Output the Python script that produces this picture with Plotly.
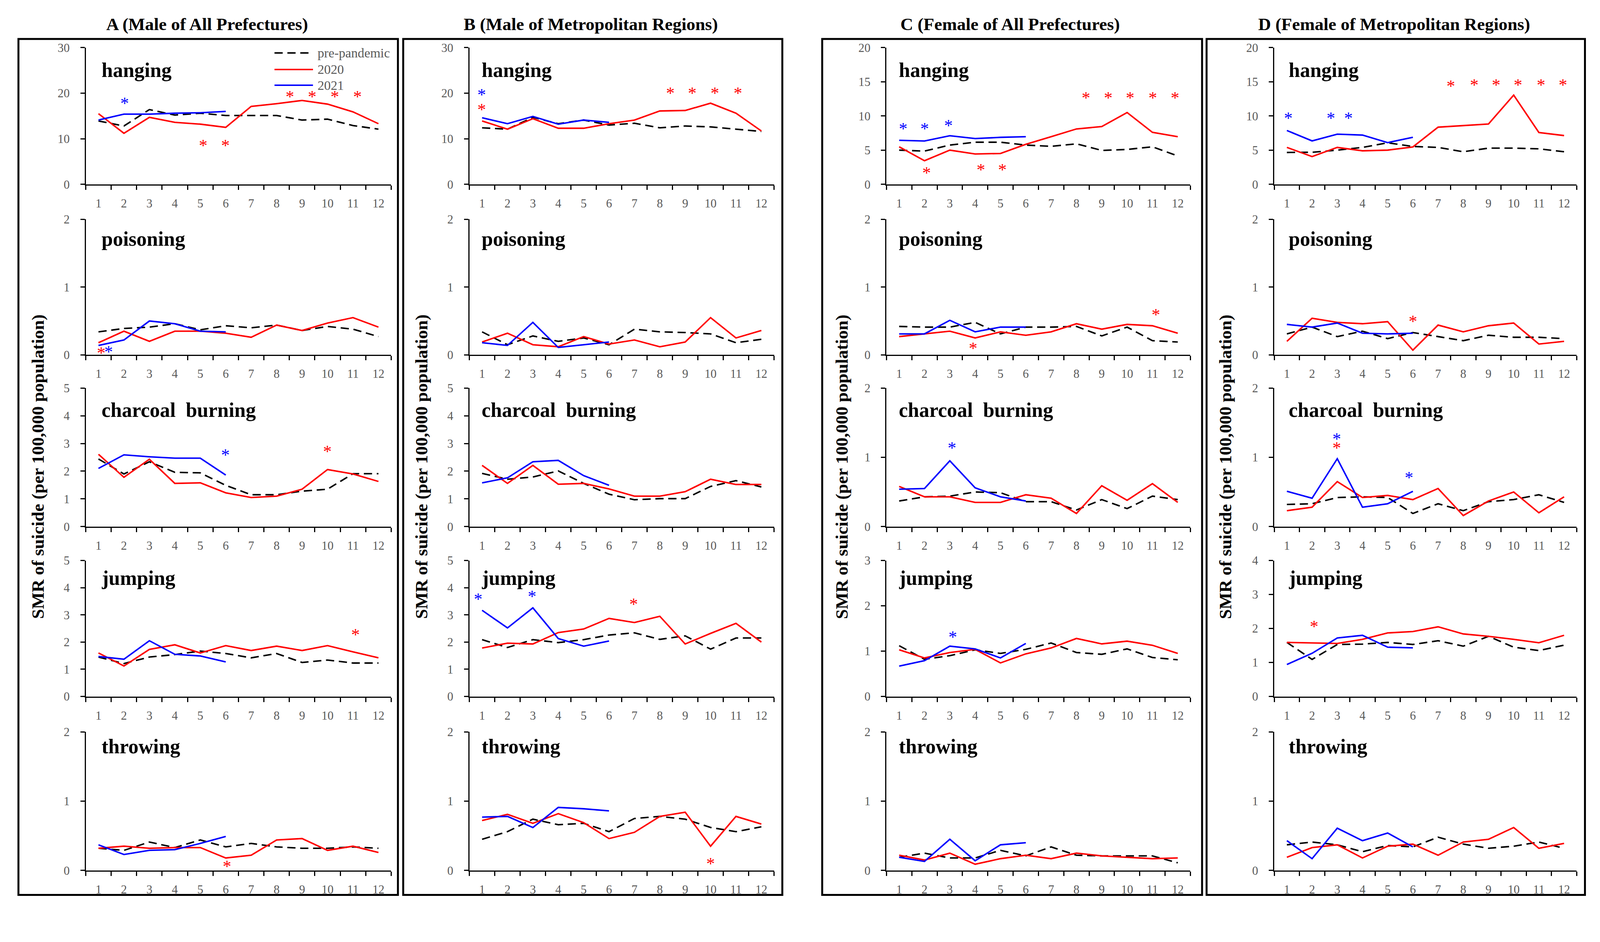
import plotly.graph_objects as go

months = list(range(1, 13))
month_labels = [str(m) for m in months]
months_2021 = months[:6]

methods = ["hanging", "poisoning", "charcoal\u00a0 burning", "jumping", "throwing"]
panel_titles = ["A (Male of All Prefectures)", "B (Male of Metropolitan Regions)",
                "C (Female of All Prefectures)", "D (Female of Metropolitan Regions)"]
series_names = ["pre-pandemic", "2020", "2021"]
y_axis_title = "SMR of suicide (per 100,000 population)"

# ---------------- A: Male, all prefectures ----------------
A_hanging_pre = [13.9, 12.8, 16.4, 15.2, 15.6, 15.1, 15.1, 15.1, 14.1, 14.3, 12.9, 12.1]
A_hanging_2020 = [15.5, 11.2, 14.7, 13.6, 13.2, 12.5, 17.1, 17.7, 18.4, 17.6, 15.9, 13.3]
A_hanging_2021 = [14.1, 15.4, 15.4, 15.6, 15.7, 16.0]
A_poisoning_pre = [0.34, 0.39, 0.41, 0.46, 0.37, 0.43, 0.40, 0.44, 0.36, 0.42, 0.38, 0.27]
A_poisoning_2020 = [0.18, 0.35, 0.20, 0.35, 0.35, 0.32, 0.26, 0.44, 0.36, 0.47, 0.55, 0.41]
A_poisoning_2021 = [0.14, 0.22, 0.50, 0.46, 0.35, 0.34]
A_charcoal_pre = [2.44, 1.90, 2.34, 1.96, 1.94, 1.49, 1.15, 1.15, 1.28, 1.35, 1.91, 1.91]
A_charcoal_2020 = [2.61, 1.78, 2.43, 1.56, 1.58, 1.22, 1.05, 1.10, 1.35, 2.06, 1.90, 1.63]
A_charcoal_2021 = [2.10, 2.59, 2.52, 2.47, 2.47, 1.86]
A_jumping_pre = [1.45, 1.21, 1.45, 1.54, 1.67, 1.58, 1.42, 1.58, 1.25, 1.34, 1.23, 1.23]
A_jumping_2020 = [1.60, 1.12, 1.73, 1.90, 1.60, 1.87, 1.69, 1.85, 1.69, 1.87, 1.64, 1.42]
A_jumping_2021 = [1.47, 1.37, 2.05, 1.55, 1.49, 1.27]
A_throwing_pre = [0.32, 0.29, 0.41, 0.33, 0.44, 0.34, 0.39, 0.34, 0.32, 0.32, 0.34, 0.32]
A_throwing_2020 = [0.32, 0.35, 0.32, 0.33, 0.33, 0.18, 0.22, 0.44, 0.46, 0.29, 0.35, 0.26]
A_throwing_2021 = [0.37, 0.23, 0.29, 0.30, 0.39, 0.49]

# ---------------- B: Male, metropolitan regions ----------------
B_hanging_pre = [12.4, 12.1, 14.7, 13.3, 14.1, 13.0, 13.4, 12.4, 12.8, 12.6, 12.1, 11.6]
B_hanging_2020 = [13.9, 12.1, 14.4, 12.3, 12.3, 13.3, 14.1, 16.1, 16.2, 17.8, 15.6, 11.7]
B_hanging_2021 = [14.6, 13.3, 14.9, 13.2, 14.1, 13.6]
B_poisoning_pre = [0.34, 0.15, 0.28, 0.20, 0.25, 0.15, 0.38, 0.34, 0.33, 0.31, 0.18, 0.23]
B_poisoning_2020 = [0.19, 0.32, 0.15, 0.12, 0.27, 0.16, 0.22, 0.12, 0.19, 0.55, 0.25, 0.36]
B_poisoning_2021 = [0.18, 0.14, 0.48, 0.11, 0.15, 0.19]
B_charcoal_pre = [1.92, 1.71, 1.79, 2.01, 1.56, 1.17, 0.97, 1.01, 1.01, 1.45, 1.66, 1.43]
B_charcoal_2020 = [2.21, 1.56, 2.21, 1.53, 1.56, 1.36, 1.10, 1.10, 1.26, 1.71, 1.52, 1.52]
B_charcoal_2021 = [1.58, 1.76, 2.34, 2.39, 1.84, 1.49]
B_jumping_pre = [2.09, 1.80, 2.09, 1.98, 2.09, 2.26, 2.34, 2.10, 2.23, 1.74, 2.15, 2.15]
B_jumping_2020 = [1.78, 1.96, 1.93, 2.35, 2.48, 2.87, 2.72, 2.95, 1.93, 2.32, 2.69, 2.00]
B_jumping_2021 = [3.17, 2.52, 3.26, 2.13, 1.85, 2.04]
B_throwing_pre = [0.45, 0.56, 0.74, 0.66, 0.68, 0.56, 0.75, 0.78, 0.74, 0.62, 0.56, 0.63]
B_throwing_2020 = [0.72, 0.81, 0.68, 0.82, 0.69, 0.46, 0.55, 0.78, 0.84, 0.35, 0.78, 0.67]
B_throwing_2021 = [0.77, 0.78, 0.62, 0.91, 0.89, 0.86]

# ---------------- C: Female, all prefectures ----------------
C_hanging_pre = [5.00, 4.86, 5.74, 6.16, 6.16, 5.74, 5.56, 5.92, 4.96, 5.10, 5.49, 4.15]
C_hanging_2020 = [5.49, 3.45, 5.00, 4.44, 4.51, 5.85, 6.97, 8.10, 8.45, 10.5, 7.60, 6.97]
C_hanging_2021 = [6.44, 6.34, 7.11, 6.69, 6.87, 6.97]
C_poisoning_pre = [0.42, 0.41, 0.41, 0.48, 0.31, 0.41, 0.41, 0.42, 0.28, 0.41, 0.21, 0.19]
C_poisoning_2020 = [0.27, 0.31, 0.35, 0.25, 0.34, 0.29, 0.34, 0.46, 0.38, 0.45, 0.43, 0.32]
C_poisoning_2021 = [0.31, 0.31, 0.51, 0.34, 0.41, 0.41]
C_charcoal_pre = [0.37, 0.43, 0.44, 0.50, 0.49, 0.36, 0.36, 0.24, 0.39, 0.26, 0.44, 0.39]
C_charcoal_2020 = [0.58, 0.43, 0.43, 0.35, 0.35, 0.46, 0.41, 0.19, 0.59, 0.38, 0.62, 0.35]
C_charcoal_2021 = [0.54, 0.55, 0.95, 0.56, 0.43, 0.37]
C_jumping_pre = [1.12, 0.82, 0.90, 1.03, 0.95, 1.04, 1.18, 0.97, 0.93, 1.05, 0.86, 0.81]
C_jumping_2020 = [1.03, 0.85, 0.97, 1.04, 0.74, 0.94, 1.07, 1.28, 1.16, 1.22, 1.13, 0.95]
C_jumping_2021 = [0.67, 0.79, 1.11, 1.05, 0.85, 1.17]
C_throwing_pre = [0.19, 0.25, 0.18, 0.18, 0.29, 0.21, 0.34, 0.22, 0.21, 0.21, 0.21, 0.11]
C_throwing_2020 = [0.22, 0.15, 0.25, 0.09, 0.17, 0.22, 0.17, 0.25, 0.21, 0.19, 0.17, 0.18]
C_throwing_2021 = [0.19, 0.13, 0.45, 0.14, 0.37, 0.40]

# ---------------- D: Female, metropolitan regions ----------------
D_hanging_pre = [4.66, 4.69, 5.00, 5.40, 6.07, 5.54, 5.40, 4.76, 5.29, 5.29, 5.19, 4.76]
D_hanging_2020 = [5.40, 4.06, 5.40, 4.90, 5.00, 5.47, 8.36, 8.57, 8.82, 13.05, 7.58, 7.13]
D_hanging_2021 = [7.87, 6.35, 7.34, 7.20, 6.10, 6.88]
D_poisoning_pre = [0.31, 0.41, 0.27, 0.35, 0.24, 0.33, 0.27, 0.21, 0.29, 0.26, 0.26, 0.24]
D_poisoning_2020 = [0.20, 0.54, 0.48, 0.46, 0.49, 0.07, 0.44, 0.34, 0.43, 0.47, 0.16, 0.20]
D_poisoning_2021 = [0.45, 0.41, 0.47, 0.32, 0.31, 0.32]
D_charcoal_pre = [0.32, 0.33, 0.42, 0.43, 0.42, 0.19, 0.33, 0.23, 0.36, 0.39, 0.46, 0.35]
D_charcoal_2020 = [0.23, 0.28, 0.65, 0.42, 0.45, 0.39, 0.55, 0.16, 0.37, 0.50, 0.20, 0.43]
D_charcoal_2021 = [0.51, 0.41, 0.98, 0.28, 0.33, 0.51]
D_jumping_pre = [1.59, 1.09, 1.53, 1.54, 1.59, 1.53, 1.64, 1.48, 1.77, 1.45, 1.35, 1.51]
D_jumping_2020 = [1.59, 1.58, 1.56, 1.68, 1.87, 1.91, 2.05, 1.84, 1.77, 1.68, 1.58, 1.80]
D_jumping_2021 = [0.94, 1.27, 1.72, 1.80, 1.45, 1.43]
D_throwing_pre = [0.37, 0.41, 0.37, 0.27, 0.36, 0.34, 0.48, 0.38, 0.32, 0.35, 0.41, 0.32]
D_throwing_2020 = [0.19, 0.33, 0.37, 0.18, 0.35, 0.38, 0.22, 0.41, 0.45, 0.62, 0.32, 0.39]
D_throwing_2021 = [0.43, 0.17, 0.61, 0.43, 0.54, 0.34]

# y-axis maxima and tick steps per column (rows: hanging..throwing)
A_ymax = [30, 2, 5, 5, 2]
B_ymax = [30, 2, 5, 5, 2]
C_ymax = [20, 2, 2, 3, 2]
D_ymax = [20, 2, 2, 4, 2]
A_dtick = [10, 1, 1, 1, 1]
B_dtick = [10, 1, 1, 1, 1]
C_dtick = [5, 1, 1, 1, 1]
D_dtick = [5, 1, 1, 1, 1]

# significance asterisks: (colour, month position, SMR level)
A_hanging_stars = [("blue", 2.02, 18.4), ("red", 5.11, 9.2), ("red", 5.99, 9.2), ("red", 8.52, 19.9),
                   ("red", 9.39, 19.9), ("red", 10.28, 19.9), ("red", 11.18, 19.9)]
A_poisoning_stars = [("red", 1.10, 0.07), ("blue", 1.40, 0.09)]
A_charcoal_stars = [("blue", 5.99, 2.70), ("red", 10.0, 2.82)]
A_jumping_stars = [("red", 11.1, 2.38)]
A_throwing_stars = [("red", 6.05, 0.10)]
B_hanging_stars = [("blue", 0.98, 20.3), ("red", 0.98, 17.1), ("red", 8.41, 20.7), ("red", 9.28, 20.7),
                   ("red", 10.17, 20.7), ("red", 11.07, 20.7)]
B_poisoning_stars = []
B_charcoal_stars = []
B_jumping_stars = [("blue", 0.85, 3.69), ("blue", 2.96, 3.79), ("red", 6.97, 3.50)]
B_throwing_stars = [("red", 10.0, 0.14)]
C_hanging_stars = [("blue", 1.16, 8.56), ("blue", 2.01, 8.56), ("blue", 2.95, 9.0), ("red", 2.08, 2.1),
                   ("red", 4.22, 2.57), ("red", 5.07, 2.57), ("red", 8.37, 13.1), ("red", 9.26, 13.1),
                   ("red", 10.12, 13.1), ("red", 11.01, 13.1), ("red", 11.89, 13.1)]
C_poisoning_stars = [("red", 3.92, 0.14), ("red", 11.13, 0.64)]
C_charcoal_stars = [("blue", 3.09, 1.18)]
C_jumping_stars = [("blue", 3.12, 1.38)]
C_throwing_stars = []
D_hanging_stars = [("blue", 1.05, 10.1), ("blue", 2.75, 10.1), ("blue", 3.45, 10.1), ("red", 7.51, 14.8),
                   ("red", 8.43, 15.0), ("red", 9.30, 15.0), ("red", 10.17, 15.0), ("red", 11.08, 15.0),
                   ("red", 11.95, 15.0)]
D_poisoning_stars = [("red", 6.0, 0.54)]
D_charcoal_stars = [("blue", 2.98, 1.31), ("red", 2.98, 1.18), ("blue", 5.85, 0.75)]
D_jumping_stars = [("red", 2.08, 2.15)]
D_throwing_stars = []

# ---------------- assemble ----------------
cols = {
    "A": dict(pre=[A_hanging_pre, A_poisoning_pre, A_charcoal_pre, A_jumping_pre, A_throwing_pre],
              y20=[A_hanging_2020, A_poisoning_2020, A_charcoal_2020, A_jumping_2020, A_throwing_2020],
              y21=[A_hanging_2021, A_poisoning_2021, A_charcoal_2021, A_jumping_2021, A_throwing_2021],
              stars=[A_hanging_stars, A_poisoning_stars, A_charcoal_stars, A_jumping_stars, A_throwing_stars],
              ymax=A_ymax, dtick=A_dtick),
    "B": dict(pre=[B_hanging_pre, B_poisoning_pre, B_charcoal_pre, B_jumping_pre, B_throwing_pre],
              y20=[B_hanging_2020, B_poisoning_2020, B_charcoal_2020, B_jumping_2020, B_throwing_2020],
              y21=[B_hanging_2021, B_poisoning_2021, B_charcoal_2021, B_jumping_2021, B_throwing_2021],
              stars=[B_hanging_stars, B_poisoning_stars, B_charcoal_stars, B_jumping_stars, B_throwing_stars],
              ymax=B_ymax, dtick=B_dtick),
    "C": dict(pre=[C_hanging_pre, C_poisoning_pre, C_charcoal_pre, C_jumping_pre, C_throwing_pre],
              y20=[C_hanging_2020, C_poisoning_2020, C_charcoal_2020, C_jumping_2020, C_throwing_2020],
              y21=[C_hanging_2021, C_poisoning_2021, C_charcoal_2021, C_jumping_2021, C_throwing_2021],
              stars=[C_hanging_stars, C_poisoning_stars, C_charcoal_stars, C_jumping_stars, C_throwing_stars],
              ymax=C_ymax, dtick=C_dtick),
    "D": dict(pre=[D_hanging_pre, D_poisoning_pre, D_charcoal_pre, D_jumping_pre, D_throwing_pre],
              y20=[D_hanging_2020, D_poisoning_2020, D_charcoal_2020, D_jumping_2020, D_throwing_2020],
              y21=[D_hanging_2021, D_poisoning_2021, D_charcoal_2021, D_jumping_2021, D_throwing_2021],
              stars=[D_hanging_stars, D_poisoning_stars, D_charcoal_stars, D_jumping_stars, D_throwing_stars],
              ymax=D_ymax, dtick=D_dtick),
}

# ---- page geometry ----
# Design in reference-picture pixels and convert to page (CSS) pixels.
# Horizontal: page renders ~4096 CSS px across the 4254 px picture.
# Vertical: mapping measured from a previous render (scale + offset).
REF_W, REF_H = 4254, 2411
S = 4096 / REF_W
KY, OY = 1.0223, 18.3
BODY_M = 8
FW = 4096 - BODY_M
FH = 2320

def fx(p):
    return (p * S - BODY_M) / FW

def fy(p):
    return 1 - ((p - OY) / KY - BODY_M) / FH

def fs(v):
    return round(v * S, 1)

def fi(v):
    return int(round(v * S))

col_x_px = [(228, 1040), (1248, 2058), (2357, 3165), (3388, 4192)]
row_y_px = [(128, 491), (584, 944), (1032, 1400), (1490, 1851), (1945, 2313)]
frame_x_px = [(49, 1058), (1072, 2080), (2186, 3196), (3208, 4214)]
frame_y_px = (105, 2378)
title_x_px = [551, 1571, 2686, 3707]
title_y_px = 66
ytitle_x_px = [100, 1120, 2238, 3258]
ytitle_y_px = 1241
label_xshift = [40, 31, 31, 36]
label_yfrac = [0.835, 0.855, 0.84, 0.87, 0.895]

SERIF = "Liberation Serif"
TICK_FONT = dict(family=SERIF, size=fs(32), color="#595959")
RED, BLUE = "#FF0000", "#0000FF"
LW = 4 * S

fig = go.Figure()
layout = dict(width=FW, height=FH, margin=dict(l=0, r=0, t=0, b=0), autosize=False,
              paper_bgcolor="white", plot_bgcolor="white", showlegend=False)
annotations = []
shapes = []

for ci, key in enumerate(["A", "B", "C", "D"]):
    c = cols[key]
    for ri in range(5):
        k = ci * 5 + ri + 1
        xa = "x" if k == 1 else f"x{k}"
        ya = "y" if k == 1 else f"y{k}"
        xname = "xaxis" if k == 1 else f"xaxis{k}"
        yname = "yaxis" if k == 1 else f"yaxis{k}"
        layout[xname] = dict(
            domain=[fx(col_x_px[ci][0]), fx(col_x_px[ci][1])], anchor=ya,
            range=[0.5, 12.5], tickmode="array", tickvals=months, ticktext=month_labels,
            ticks="", showline=True, linecolor="black", linewidth=3, showgrid=False,
            zeroline=False, tickfont=TICK_FONT, ticklabelstandoff=fi(20),
            minor=dict(tickmode="array", tickvals=[m - 0.5 for m in range(1, 14)],
                       ticks="outside", ticklen=fi(11), tickwidth=3, tickcolor="black", showgrid=False),
            fixedrange=True)
        layout[yname] = dict(
            domain=[fy(row_y_px[ri][1]), fy(row_y_px[ri][0])], anchor=xa,
            range=[0, c["ymax"][ri]], tickmode="linear", tick0=0, dtick=c["dtick"][ri],
            ticks="outside", ticklen=fi(11), tickwidth=3, tickcolor="black",
            showline=True, linecolor="black", linewidth=3, showgrid=False, zeroline=False,
            tickfont=TICK_FONT, ticklabelstandoff=fi(22), fixedrange=True)

        fig.add_trace(go.Scatter(x=months, y=c["pre"][ri], mode="lines", name=series_names[0],
                                 line=dict(color="black", width=LW, dash="21px,12px"),
                                 xaxis=xa, yaxis=ya))
        fig.add_trace(go.Scatter(x=months, y=c["y20"][ri], mode="lines", name=series_names[1],
                                 line=dict(color=RED, width=LW), xaxis=xa, yaxis=ya))
        fig.add_trace(go.Scatter(x=months_2021, y=c["y21"][ri], mode="lines", name=series_names[2],
                                 line=dict(color=BLUE, width=LW), xaxis=xa, yaxis=ya))

        annotations.append(dict(text=f"<b>{methods[ri]}</b>", x=0, y=label_yfrac[ri],
                                xref=f"{xa} domain", yref=f"{ya} domain", xanchor="left",
                                yanchor="middle", xshift=fs(label_xshift[ci]), showarrow=False,
                                font=dict(family=SERIF, size=fs(54), color="black")))
        for color, mx, my in c["stars"][ri]:
            annotations.append(dict(text="*", x=mx, y=my, xref=xa, yref=ya, showarrow=False,
                                    xanchor="center", yanchor="middle", yshift=-fs(8),
                                    font=dict(family=SERIF, size=fs(46),
                                              color=RED if color == "red" else BLUE)))

    annotations.append(dict(text=f"<b>{panel_titles[ci]}</b>", x=fx(title_x_px[ci]), y=fy(title_y_px),
                            xref="paper", yref="paper", xanchor="center", yanchor="middle",
                            showarrow=False, font=dict(family=SERIF, size=fs(47), color="black")))
    annotations.append(dict(text=f"<b>{y_axis_title}</b>", x=fx(ytitle_x_px[ci]), y=fy(ytitle_y_px),
                            xref="paper", yref="paper", xanchor="center", yanchor="middle",
                            textangle=-90, showarrow=False,
                            font=dict(family=SERIF, size=fs(47), color="black")))
    shapes.append(dict(type="rect", xref="paper", yref="paper",
                       x0=fx(frame_x_px[ci][0]), x1=fx(frame_x_px[ci][1]),
                       y0=fy(frame_y_px[1]), y1=fy(frame_y_px[0]),
                       line=dict(color="black", width=5), fillcolor="rgba(0,0,0,0)"))

# legend drawn inside panel A / hanging
legend_rows = [0.961, 0.840, 0.725]
legend_styles = [dict(color="black", width=LW, dash="21px,12px"),
                 dict(color=RED, width=LW), dict(color=BLUE, width=LW)]
for name, yy, st in zip(series_names, legend_rows, legend_styles):
    shapes.append(dict(type="line", xref="x domain", yref="y domain", x0=0.618, x1=0.744,
                       y0=yy, y1=yy, line=st))
    annotations.append(dict(text=name, x=0.756, y=yy, xref="x domain", yref="y domain",
                            xanchor="left", yanchor="middle", showarrow=False,
                            font=dict(family=SERIF, size=fs(35), color="#595959")))

layout["annotations"] = annotations
layout["shapes"] = shapes
fig.update_layout(**layout)
fig.write_html("out.html")
